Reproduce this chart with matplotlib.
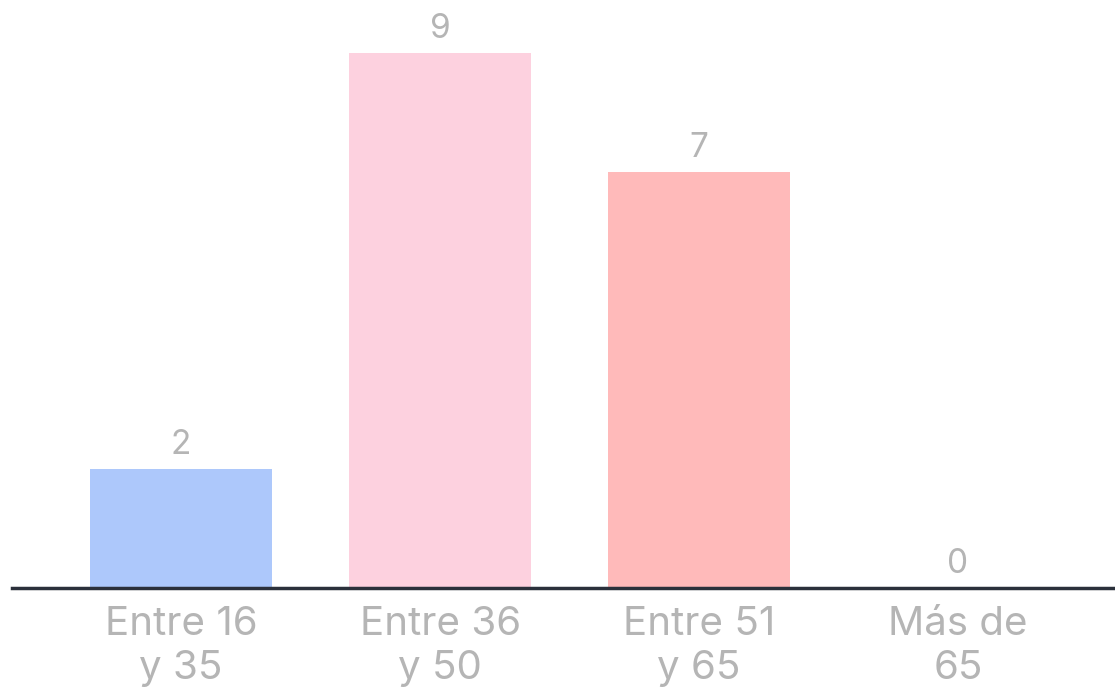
import matplotlib
matplotlib.use("Agg")
import matplotlib.pyplot as plt

categories = ["Entre 16\ny 35", "Entre 36\ny 50", "Entre 51\ny 65", "Más de\n65"]
values = [2, 9, 7, 0]
colors = ["#adc8fb", "#fdd1df", "#ffbaba", "#d9d9d9"]

plt.rcParams['font.family'] = ['Inter', 'DejaVu Sans']
fig = plt.figure(figsize=(11.15, 6.91), dpi=100)
ax = fig.add_axes([12/1115, (691-588)/691, 1103/1115, 583/691])
x = list(range(len(categories)))
ax.bar(x, values, width=0.7, color=colors, zorder=2)
ax.set_xlim(-0.653, 3.606)
ax.set_ylim(0, 9.8)
for xi, v in zip(x, values):
    ax.annotate(str(v), (xi, v), xytext=(0, 5.5), textcoords="offset points",
                ha="center", va="bottom", fontsize=24, color="#b5b5b5",
                fontweight="normal")
for s in ["top", "right", "left"]:
    ax.spines[s].set_visible(False)
ax.spines["bottom"].set_color("#2b303b")
ax.spines["bottom"].set_linewidth(2.5)
ax.spines["bottom"].set_zorder(3)
ax.set_yticks([])
ax.set_xticks(x)
ax.set_xticklabels(categories, fontsize=29, color="#b5b5b5", linespacing=1.25,
                   fontweight="normal")
ax.tick_params(axis="x", length=0, pad=13)
fig.savefig("out.png", dpi=100)
